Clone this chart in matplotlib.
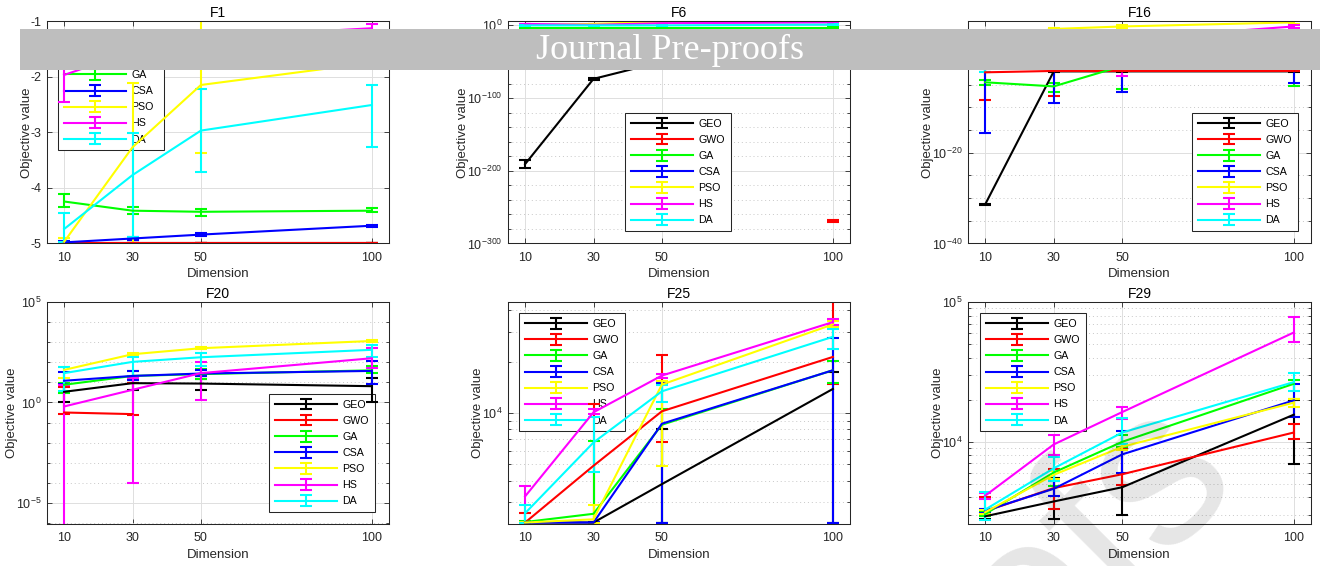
import numpy as np
import matplotlib
matplotlib.use("Agg")
import matplotlib.pyplot as plt
from matplotlib.ticker import FixedLocator, FuncFormatter, NullFormatter, LogLocator
from matplotlib.patches import Rectangle

plt.rcParams['font.family'] = ['Liberation Sans', 'DejaVu Sans']
plt.rcParams['mathtext.fontset'] = 'custom'
plt.rcParams['mathtext.rm'] = 'Liberation Sans'
plt.rcParams['mathtext.it'] = 'Liberation Sans:italic'
plt.rcParams['mathtext.bf'] = 'Liberation Sans:bold'
plt.rcParams['axes.unicode_minus'] = False

# ---------------- data ----------------
dims = [10, 30, 50, 100]
algos = ['GEO', 'GWO', 'GA', 'CSA', 'PSO', 'HS', 'DA']
colors = ['#000000', '#ff0000', '#00ff00', '#0000ff', '#ffff00', '#ff00ff', '#00ffff']
nan = float('nan')

# F1 (linear values)
F1_mean = {'GEO': [-4.988, -4.988, -4.988, -4.988], 'GWO': [-5.0, -5.0, -5.0, -5.0],
           'GA': [-4.245, -4.41, -4.43, -4.41], 'CSA': [-4.98, -4.91, -4.84, -4.68],
           'PSO': [-4.97, -3.27, -2.15, -1.75], 'HS': [-1.97, -1.55, -1.3, -1.13],
           'DA': [-4.74, -3.77, -2.97, -2.51]}
F1_low = {'GEO': [-4.993, -4.993, -4.993, -4.993], 'GWO': [-5.0, -5.0, -5.0, -5.0],
          'GA': [-4.35, -4.47, -4.50, -4.44], 'CSA': [-5.0, -4.93, -4.86, -4.70],
          'PSO': [-5.1, -5.2, -3.37, -1.85], 'HS': [-2.46, -1.65, -1.4, -1.2],
          'DA': [-4.98, -4.89, -3.71, -3.26]}
F1_high = {'GEO': [-4.983, -4.983, -4.983, -4.983], 'GWO': [-5.0, -5.0, -5.0, -5.0],
           'GA': [-4.11, -4.35, -4.38, -4.36], 'CSA': [-4.96, -4.89, -4.82, -4.66],
           'PSO': [-4.9, -2.12, -0.9, -1.65], 'HS': [-1.48, -1.45, -1.2, -1.06],
           'DA': [-4.45, -3.02, -2.23, -2.15]}

# F6 (log10 of values)
F6_mean = {'GEO': [-190.8, -73.6, -50, -30], 'GWO': [nan, nan, nan, -269],
           'GA': [-3.2, -3.2, -3.2, -3.2], 'CSA': [-20, -20, -20, -20],
           'PSO': [0.5, 2.0, 5.0, 5.5], 'HS': [2.0, 0.7, 3.0, 4.0], 'DA': [0, 0, 0, 1]}
F6_low = {'GEO': [-196.8, -74.6, -51, -31], 'GWO': [nan, nan, nan, -271],
          'GA': [-3.7, -3.7, -3.7, -3.7], 'CSA': [-21, -21, -21, -21],
          'PSO': [0.0, 1.5, 4.5, 5.0], 'HS': [1.5, 0.2, 2.5, 3.5], 'DA': [-0.5, -0.5, -0.5, 0.5]}
F6_high = {'GEO': [-184.8, -72.6, -49, -29], 'GWO': [nan, nan, nan, -267],
           'GA': [-2.7, -2.7, -2.7, -2.7], 'CSA': [-19, -19, -19, -19],
           'PSO': [1.0, 2.5, 5.5, 6.0], 'HS': [2.5, 1.2, 3.5, 4.5], 'DA': [0.5, 0.5, 0.5, 1.5]}

# F16 (log10 of values)
F16_mean = {'GEO': [-31.4, -2.1, -2.1, -2.1], 'GWO': [-2.3, -2.0, -2.0, -2.0],
            'GA': [-4.5, -5.4, -0.9, -1.0], 'CSA': [-1.0, -1.0, -1.0, -1.0],
            'PSO': [5.0, 7.25, 7.8, 8.7], 'HS': [1.0, 3.0, 5.0, 7.8], 'DA': [0, 0, 0, 0]}
F16_low = {'GEO': [-31.6, -2.2, -2.2, -2.2], 'GWO': [-8.3, -7.5, -2.1, -2.1],
           'GA': [-5.05, -6.7, -6.0, -5.3], 'CSA': [-15.7, -9.1, -6.7, -4.7],
           'PSO': [4.7, 7.0, 7.5, 8.4], 'HS': [0.5, 2.5, -3.2, 7.5], 'DA': [-2.3, -1.0, -1.0, -1.0]}
F16_high = {'GEO': [-31.2, -2.0, -2.0, -2.0], 'GWO': [-1.5, -1.5, -1.9, -1.9],
            'GA': [-4.1, -4.6, 0.5, 0.5], 'CSA': [0, 0, 0, 0],
            'PSO': [5.3, 7.5, 8.1, 9.0], 'HS': [1.5, 3.5, 5.5, 8.1], 'DA': [0.5, 0.5, 0.5, 0.5]}

# F20 (log10 of values)
F20_mean = {'GEO': [0.53, 0.96, 0.94, 0.81], 'GWO': [-0.5, -0.58, nan, nan],
            'GA': [0.88, 1.32, 1.41, 1.6], 'CSA': [1.08, 1.32, 1.44, 1.57],
            'PSO': [1.62, 2.4, 2.7, 3.06], 'HS': [-0.2, 0.63, 1.46, 2.2],
            'DA': [1.46, 2.02, 2.25, 2.62]}
F20_low = {'GEO': [0.0, 0.63, 0.61, 0.0], 'GWO': [-0.55, -0.63, nan, nan],
           'GA': [0.46, 1.11, 1.16, 1.49], 'CSA': [0.9, 1.1, 1.3, 0.94],
           'PSO': [1.21, 2.35, 2.65, 3.0], 'HS': [-6.1, -4.02, 0.13, 1.7],
           'DA': [0.58, 1.3, 1.8, 2.24]}
F20_high = {'GEO': [0.83, 1.11, 1.16, 1.21], 'GWO': [0.79, 0.96, nan, nan],
            'GA': [0.99, 1.57, 1.66, 1.82], 'CSA': [1.52, 1.55, 1.6, 2.04],
            'PSO': [1.74, 2.45, 2.75, 3.1], 'HS': [0.88, 1.2, 1.99, 2.7],
            'DA': [1.77, 2.24, 2.48, 2.85]}

# F25 (values)
F25_mean = {'GEO': [2275, 2275, 3822, 13840], 'GWO': [2275, 4900, 10230, 21330],
            'GA': [2290, 2560, 8530, 17810], 'CSA': [2275, 2275, 8650, 17810],
            'PSO': [2275, 2375, 14680, 33100], 'HS': [3240, 10090, 16580, 34140],
            'DA': [2580, 6710, 13400, 27990]}
F25_low = {'GEO': [2240, 2240, 2275, 2275], 'GWO': [2240, 2240, 6800, 14890],
           'GA': [2250, 2250, 2275, 15010], 'CSA': [2250, 2250, 2275, 2275],
           'PSO': [2250, 2250, 4900, 32000], 'HS': [2250, 9800, 16000, 33000],
           'DA': [2250, 4500, 11560, 23600]}
F25_high = {'GEO': [2290, 2290, 8090, 17340], 'GWO': [2580, 11350, 22000, 46000],
            'GA': [2320, 6810, 10540, 20150], 'CSA': [2300, 2300, 15010, 27600],
            'PSO': [2300, 2890, 15500, 34500], 'HS': [3740, 10500, 17000, 35500],
            'DA': [2900, 9430, 14500, 31000]}

# F29 (values)
F29_mean = {'GEO': [2930, 3740, 4730, 15630], 'GWO': [3180, 4660, 5860, 11650],
            'GA': [3040, 6030, 10000, 26000], 'CSA': [3210, 4610, 8130, 19770],
            'PSO': [3130, 5800, 9210, 19050], 'HS': [4110, 9570, 16330, 60530],
            'DA': [3270, 6460, 11650, 26720]}
F29_low = {'GEO': [2820, 2820, 2970, 6900], 'GWO': [3100, 3320, 4900, 10440],
           'GA': [2950, 4800, 9100, 20300], 'CSA': [3100, 4100, 6000, 15060],
           'PSO': [3050, 5400, 8700, 17740], 'HS': [3900, 8040, 14650, 51990],
           'DA': [2760, 5200, 9600, 23000]}
F29_high = {'GEO': [3000, 5480, 9110, 19990], 'GWO': [4000, 6400, 9000, 13350],
            'GA': [3150, 8040, 11200, 27860], 'CSA': [3300, 5200, 11970, 25700],
            'PSO': [3250, 6200, 9700, 20300], 'HS': [4300, 11150, 17740, 78700],
            'DA': [4360, 7800, 14830, 31100]}

# ---------------- figure ----------------
W, H = 1320, 566
fig = plt.figure(figsize=(W / 100, H / 100), dpi=100)
TXT = '#262626'

def frac_rect(left, top, right, bottom):
    return [left / W, 1 - bottom / H, (right - left) / W, (bottom - top) / H]

def pow_fmt(v, pos):
    if v <= 0:
        return ''
    e = int(round(np.log10(v)))
    return r'$\mathdefault{10^{%d}}$' % e

def draw(ax, mean, low, high, logvals=False):
    for name, c in zip(algos, colors):
        m = np.array(mean[name], float)
        lo = np.array(low[name], float)
        hi = np.array(high[name], float)
        if logvals:
            m, lo, hi = 10.0 ** m, 10.0 ** lo, 10.0 ** hi
        ax.errorbar(dims, m, yerr=[m - lo, hi - m], color=c, lw=1.5,
                    capsize=4.3, capthick=1.5, elinewidth=1.5, label=name)

def style(ax, title, leg_anchor):
    ax.set_xlim(5, 105)
    ax.set_xticks(dims)
    ax.set_xticklabels([str(d) for d in dims])
    ax.set_title(title, fontsize=10, pad=3, color='k')
    ax.set_xlabel('Dimension', fontsize=9.5, color=TXT, labelpad=3)
    ax.set_ylabel('Objective value', fontsize=9.5, color=TXT, labelpad=-1.5)
    ax.tick_params(which='both', direction='in', top=True, right=True,
                   colors=TXT, labelsize=9, width=0.6)
    ax.tick_params(axis='x', pad=6)
    ax.tick_params(axis='y', pad=4)
    ax.tick_params(which='major', length=3.5)
    ax.tick_params(which='minor', length=2)
    ax.tick_params(axis='x', which='minor', bottom=False, top=False)
    for s in ax.spines.values():
        s.set_color(TXT)
        s.set_linewidth(0.75)
    ax.set_axisbelow(True)
    ax.xaxis.grid(True, which='major', color='#dedede', lw=0.7)
    ax.yaxis.grid(True, which='major', color='#dedede', lw=0.7)
    leg = ax.legend(loc='upper left', bbox_to_anchor=leg_anchor, borderaxespad=0,
                    fontsize=7.7, handlelength=5.8, handletextpad=0.5,
                    labelspacing=0.57, borderpad=0.55, fancybox=False,
                    framealpha=1, edgecolor=TXT)
    leg.get_frame().set_linewidth(0.75)
    leg.set_zorder(1.5)

# Panel positions (pixels: left, top, right, bottom)
pos = {
    'F1': (47, 21, 389, 243.5), 'F6': (508, 21, 850, 243.5), 'F16': (968, 21, 1311, 243.5),
    'F20': (47, 302, 389, 524), 'F25': (508, 302, 850, 524), 'F29': (968, 302, 1311, 524),
}

# F1
ax = fig.add_axes(frac_rect(*pos['F1']))
draw(ax, F1_mean, F1_low, F1_high)
ax.set_ylim(-5, -1)
ax.set_yticks([-5, -4, -3, -2, -1])
style(ax, 'F1', (0.032, 0.95))

# F6
ax = fig.add_axes(frac_rect(*pos['F6']))
ax.set_yscale('log')
draw(ax, F6_mean, F6_low, F6_high, logvals=True)
ax.set_ylim(1e-300, 1e6)
ax.yaxis.set_major_locator(FixedLocator([1e-300, 1e-200, 1e-100, 1e0]))
ax.yaxis.set_minor_locator(FixedLocator([10.0 ** e for e in range(-280, 6, 20)]))
ax.yaxis.set_major_formatter(FuncFormatter(pow_fmt))
ax.yaxis.set_minor_formatter(NullFormatter())
style(ax, 'F6', (0.342, 0.587))
ax.yaxis.grid(True, which='minor', color='#c8c8c8', lw=0.7, ls=(0, (1, 3)))

# F16
ax = fig.add_axes(frac_rect(*pos['F16']))
ax.set_yscale('log')
draw(ax, F16_mean, F16_low, F16_high, logvals=True)
ax.set_ylim(1e-40, 1e9)
ax.yaxis.set_major_locator(FixedLocator([1e-40, 1e-20, 1e0]))
ax.yaxis.set_minor_locator(FixedLocator([10.0 ** e for e in range(-35, 9, 5)]))
ax.yaxis.set_major_formatter(FuncFormatter(pow_fmt))
ax.yaxis.set_minor_formatter(NullFormatter())
style(ax, 'F16', (0.653, 0.587))
ax.yaxis.grid(True, which='minor', color='#c8c8c8', lw=0.7, ls=(0, (1, 3)))

# F20
ax = fig.add_axes(frac_rect(*pos['F20']))
ax.set_yscale('log')
draw(ax, F20_mean, F20_low, F20_high, logvals=True)
ax.set_ylim(10 ** -6.05, 1e5)
ax.yaxis.set_major_locator(FixedLocator([1e-5, 1e0, 1e5]))
ax.yaxis.set_minor_locator(FixedLocator([10.0 ** e for e in range(-6, 5)]))
ax.yaxis.set_major_formatter(FuncFormatter(pow_fmt))
ax.yaxis.set_minor_formatter(NullFormatter())
style(ax, 'F20', (0.649, 0.586))
ax.yaxis.grid(True, which='minor', color='#c8c8c8', lw=0.7, ls=(0, (1, 3)))

# F25
ax = fig.add_axes(frac_rect(*pos['F25']))
ax.set_yscale('log')
draw(ax, F25_mean, F25_low, F25_high)
ax.set_ylim(2230, 44800)
ax.yaxis.set_major_locator(FixedLocator([1e4]))
ax.yaxis.set_minor_locator(LogLocator(base=10, subs=range(2, 10)))
ax.yaxis.set_major_formatter(FuncFormatter(pow_fmt))
ax.yaxis.set_minor_formatter(NullFormatter())
style(ax, 'F25', (0.032, 0.95))
ax.yaxis.grid(True, which='minor', color='#c8c8c8', lw=0.7, ls=(0, (1, 3)))

# F29
ax = fig.add_axes(frac_rect(*pos['F29']))
ax.set_yscale('log')
draw(ax, F29_mean, F29_low, F29_high)
ax.set_ylim(2580, 1e5)
ax.yaxis.set_major_locator(FixedLocator([1e4, 1e5]))
ax.yaxis.set_minor_locator(LogLocator(base=10, subs=range(2, 10)))
ax.yaxis.set_major_formatter(FuncFormatter(pow_fmt))
ax.yaxis.set_minor_formatter(NullFormatter())
style(ax, 'F29', (0.035, 0.95))
ax.yaxis.grid(True, which='minor', color='#c8c8c8', lw=0.7, ls=(0, (1, 3)))

# Watermark (light, partially visible at the lower right)
fig.text(1095 / W, 25 / H, 'ofs', fontsize=160, rotation=45, color='k', alpha=0.1,
         ha='center', va='center', family='Liberation Sans', zorder=20)

# Banner
fig.patches.append(Rectangle((20 / W, 1 - 70 / H), 1 - 20 / W, 41 / H,
                             transform=fig.transFigure, facecolor='#bebebe',
                             edgecolor='none', zorder=30))
fig.text(670 / W, 1 - 50 / H, 'Journal Pre-proofs', fontsize=26, color='white',
         family='Liberation Serif', ha='center', va='center', zorder=31)

fig.savefig('out.png', dpi=100)
